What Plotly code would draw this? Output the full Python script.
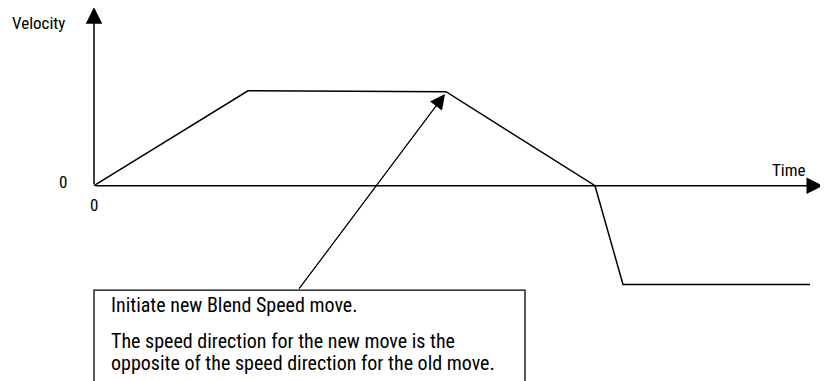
import plotly.graph_objects as go

# velocity profile (arbitrary units) - old move blends into opposite direction move
tiempo = [0, 1.54, 3.52, 5.01, 5.29, 7.16]
velocidad = [0, 1.0, 0.99, 0, -1.04, -1.04]

eje_x_fin = 7.29
eje_y_fin = 1.88

# callout arrow: starts on the box, points at the blend point
flecha_desde = (2.04, -1.10)
flecha_hasta = (3.51, 0.965)

caja_x = [0, 4.31]
caja_y = [-1.10, -2.5]

etiquetas = {
    "Velocity": (-0.56, 1.71),
    "Time": (6.95, 0.165),
}
ceros = [(-0.31, 0.04), (0, -0.2)]

texto_caja = [
    "Initiate new Blend Speed move.",
    "The speed direction for the new move is the",
    "opposite of the speed direction for the old move.",
]
texto_y = [-1.255, -1.635, -1.865]
texto_x = 0.15

fuente = "Liberation Sans Narrow, Arial Narrow, Roboto Condensed, Liberation Sans, sans-serif"

fig = go.Figure()

fig.add_trace(go.Scatter(x=tiempo, y=velocidad, mode="lines",
                         line=dict(color="black", width=1.5), hoverinfo="skip"))

# axes as arrows
for x, y in [(eje_x_fin, 0), (0, eje_y_fin)]:
    fig.add_annotation(x=x, y=y, ax=0, ay=0, xref="x", yref="y", axref="x", ayref="y",
                       text="", showarrow=True, arrowhead=2, arrowsize=2.2,
                       arrowwidth=1.5, arrowcolor="black")

fig.add_annotation(x=flecha_hasta[0], y=flecha_hasta[1], ax=flecha_desde[0], ay=flecha_desde[1],
                   xref="x", yref="y", axref="x", ayref="y", text="", showarrow=True,
                   arrowhead=2, arrowsize=2.3, arrowwidth=1.3, arrowcolor="black")

fig.add_shape(type="rect", x0=caja_x[0], x1=caja_x[1], y0=caja_y[0], y1=caja_y[1],
              xref="x", yref="y", line=dict(color="black", width=1.3), fillcolor="white")

for t, (x, y) in etiquetas.items():
    fig.add_annotation(x=x, y=y, text=t, showarrow=False,
                       font=dict(family=fuente, size=17, color="black"))

for x, y in ceros:
    fig.add_annotation(x=x, y=y, text="0", showarrow=False,
                       font=dict(family=fuente, size=17, color="black"))

for t, y in zip(texto_caja, texto_y):
    fig.add_annotation(x=texto_x, y=y, text=t, showarrow=False, xanchor="left",
                       font=dict(family=fuente, size=20, color="black"))

# the page body has an 8px margin, so the ranges are shifted to compensate
fig.update_layout(
    width=828, height=381,
    margin=dict(l=0, r=0, t=0, b=0),
    paper_bgcolor="white", plot_bgcolor="white",
    showlegend=False,
    xaxis=dict(range=[-0.86, 7.42], visible=False, fixedrange=True),
    yaxis=dict(range=[-2.14, 1.871], visible=False, fixedrange=True),
)

fig.write_html("out.html")
